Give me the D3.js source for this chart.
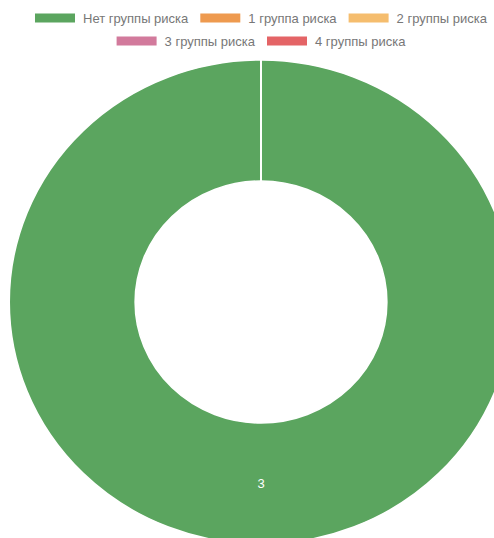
<!DOCTYPE html>
<html>
<head>
<meta charset="utf-8">
<script src="https://cdn.jsdelivr.net/npm/d3@7"></script>
<style>
  body { margin: 0; background: #fff; }
  svg { display: block; }
</style>
</head>
<body>
<script>
// chart data
const labels = ['Нет группы риска', '1 группа риска', '2 группы риска', '3 группы риска', '4 группы риска'];
const values = [3, 0, 0, 0, 0];
const colors = ['#5ba55f', '#ee9a4f', '#f5bd6e', '#d27a9c', '#e46466'];
const legendRows = [[0, 1, 2], [3, 4]];

const width = 494
const height = 538
// donut geometry
const cx = 261
const cy = 302
const outerR = 242
const innerR = outerR / 2
const xStretch = 1.04  // photo is a bit wider than tall
// legend
const boxW = 40
const boxH = 9
const fontSize = 13
const rowY = [18, 41]

const svg = d3.select('body')
    .append('svg')
    .attr('width', width)
    .attr('height', height);

// donut
const pie = d3.pie().sort(null).value(d => d);
const arc = d3.arc().innerRadius(innerR).outerRadius(outerR);

const g = svg.append('g')
    .attr('transform', `translate(${cx},${cy}) scale(${xStretch},1)`);

const arcs = pie(values);

g.selectAll('path')
    .data(arcs)
    .enter()
    .append('path')
    .attr('d', arc)
    .attr('fill', (d, i) => colors[i])
    .attr('stroke', '#fff')
    .attr('stroke-width', 1.5);

// start-angle separator line (white border of the single slice)
g.append('line')
    .attr('x1', 0)
    .attr('x2', 0)
    .attr('y1', -outerR)
    .attr('y2', -innerR)
    .attr('stroke', '#fff')
    .attr('stroke-width', 1.5);

// value labels
g.selectAll('text.val')
    .data(arcs.filter(d => d.value > 0))
    .enter()
    .append('text')
    .attr('class', 'val')
    .attr('transform', d => {
        const c = arc.centroid(d);
        return `translate(${c[0]},${c[1]}) scale(${1 / xStretch},1)`;
    })
    .attr('text-anchor', 'middle')
    .attr('dy', '0.35em')
    .attr('font-family', 'Liberation Sans, Arial, sans-serif')
    .attr('font-size', '13px')
    .attr('fill', '#fff')
    .text(d => d.value);

// legend
legendRows.forEach((row, r) => {
    const lg = svg.append('g');
    let x = 0;
    row.forEach(i => {
        const item = lg.append('g').attr('transform', `translate(${x},0)`);
        item.append('rect')
            .attr('x', 0)
            .attr('y', rowY[r] - boxH / 2)
            .attr('width', boxW)
            .attr('height', boxH)
            .attr('fill', colors[i]);
        const t = item.append('text')
            .attr('x', boxW + 8)
            .attr('y', rowY[r])
            .attr('dy', '0.35em')
            .attr('font-family', 'Liberation Sans, Arial, sans-serif')
            .attr('font-size', fontSize + 'px')
            .attr('fill', '#777')
            .text(labels[i]);
        x += boxW + 8 + t.node().getComputedTextLength() + 12;
    });
    const rowW = x - 12;
    lg.attr('transform', `translate(${cx - rowW / 2},0)`);
});
</script>
</body>
</html>
